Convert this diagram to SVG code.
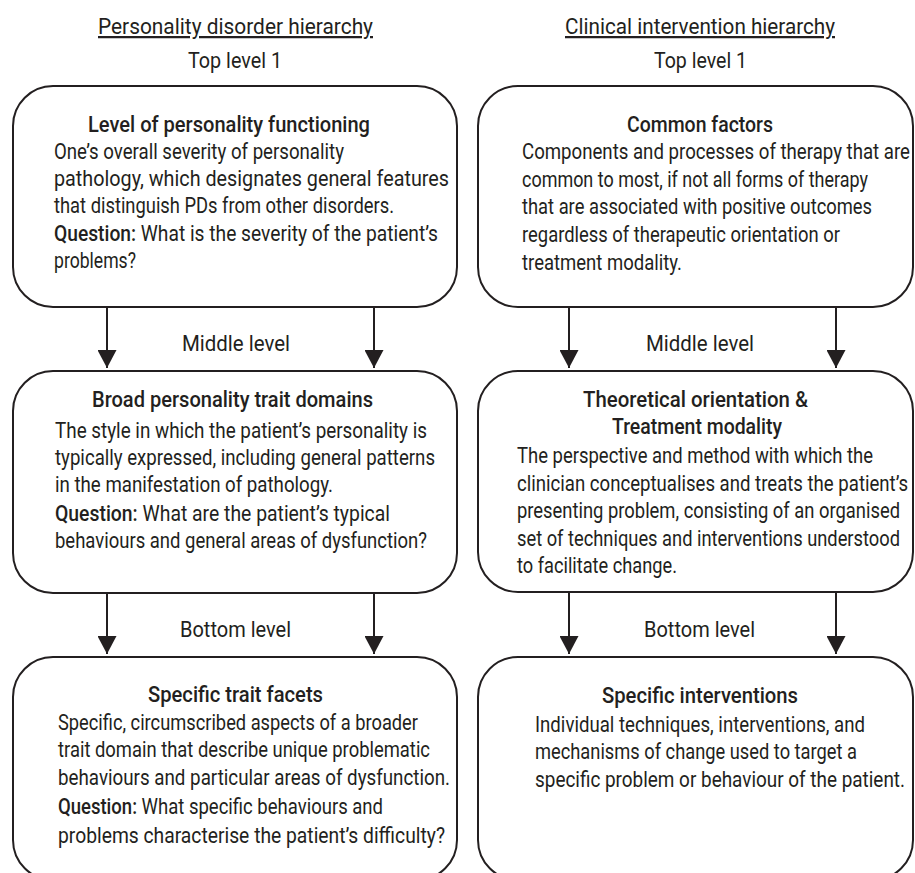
<svg xmlns="http://www.w3.org/2000/svg" width="915" height="873" viewBox="0 0 915 873">
<defs>
<style>
.t{font-family:Roboto,"Liberation Sans",sans-serif;font-size:22.5px;fill:#231f20}
.h{font-weight:500}
.q{font-weight:500}
.u{text-decoration:underline}
.box{fill:#fff;stroke:#231f20;stroke-width:2}
.c{stroke:#231f20;stroke-width:2;fill:none}
</style>
<marker id="ah" viewBox="0 0 18 19" refX="18" refY="9.5" markerWidth="18" markerHeight="19" markerUnits="userSpaceOnUse" orient="auto">
<path d="M0,0 L18,9.5 L0,19 z" fill="#231f20"/>
</marker>
</defs>
<rect width="915" height="873" fill="#fff"/>

<g id="headings">
<text class="t u" x="98" y="34" textLength="275" lengthAdjust="spacingAndGlyphs">Personality disorder hierarchy</text>
<text class="t" x="188" y="68" textLength="94" lengthAdjust="spacingAndGlyphs">Top level 1</text>
<text class="t u" x="565" y="34" textLength="270" lengthAdjust="spacingAndGlyphs">Clinical intervention hierarchy</text>
<text class="t" x="654" y="68" textLength="93" lengthAdjust="spacingAndGlyphs">Top level 1</text>
</g>

<g id="connectors">
<line class="c" x1="107" y1="307" x2="107" y2="368" marker-end="url(#ah)"/>
<line class="c" x1="374" y1="307" x2="374" y2="368" marker-end="url(#ah)"/>
<line class="c" x1="569" y1="307" x2="569" y2="368" marker-end="url(#ah)"/>
<line class="c" x1="836" y1="307" x2="836" y2="368" marker-end="url(#ah)"/>
<line class="c" x1="107" y1="593" x2="107" y2="654" marker-end="url(#ah)"/>
<line class="c" x1="374" y1="593" x2="374" y2="654" marker-end="url(#ah)"/>
<line class="c" x1="569" y1="592" x2="569" y2="654" marker-end="url(#ah)"/>
<line class="c" x1="836" y1="592" x2="836" y2="654" marker-end="url(#ah)"/>
<text class="t" x="182" y="351" textLength="108" lengthAdjust="spacingAndGlyphs">Middle level</text>
<text class="t" x="646" y="351" textLength="108" lengthAdjust="spacingAndGlyphs">Middle level</text>
<text class="t" x="180" y="637" textLength="111" lengthAdjust="spacingAndGlyphs">Bottom level</text>
<text class="t" x="644" y="637" textLength="111" lengthAdjust="spacingAndGlyphs">Bottom level</text>
</g>

<g id="pd-top">
<rect class="box" x="13" y="86" width="444" height="221" rx="40" ry="40"/>
<text class="t h" x="88" y="132" textLength="282" lengthAdjust="spacingAndGlyphs">Level of personality functioning</text>
<text class="t" x="54" y="159" textLength="290" lengthAdjust="spacingAndGlyphs">One’s overall severity of personality</text>
<text class="t" x="54" y="186" textLength="395" lengthAdjust="spacingAndGlyphs">pathology, which designates general features</text>
<text class="t" x="54" y="213" textLength="340" lengthAdjust="spacingAndGlyphs">that distinguish PDs from other disorders.</text>
<text class="t" x="54" y="241" textLength="384" lengthAdjust="spacingAndGlyphs"><tspan class="q">Question:</tspan> What is the severity of the patient’s</text>
<text class="t" x="54" y="268" textLength="82" lengthAdjust="spacingAndGlyphs">problems?</text>
</g>

<g id="ci-top">
<rect class="box" x="478" y="86" width="435" height="221" rx="40" ry="40"/>
<text class="t h" x="627" y="132" textLength="146" lengthAdjust="spacingAndGlyphs">Common factors</text>
<text class="t" x="522" y="159" textLength="388" lengthAdjust="spacingAndGlyphs">Components and processes of therapy that are</text>
<text class="t" x="522" y="187" textLength="346" lengthAdjust="spacingAndGlyphs">common to most, if not all forms of therapy</text>
<text class="t" x="522" y="214" textLength="350" lengthAdjust="spacingAndGlyphs">that are associated with positive outcomes</text>
<text class="t" x="522" y="242" textLength="318" lengthAdjust="spacingAndGlyphs">regardless of therapeutic orientation or</text>
<text class="t" x="522" y="270" textLength="160" lengthAdjust="spacingAndGlyphs">treatment modality.</text>
</g>

<g id="pd-middle">
<rect class="box" x="13" y="371" width="444" height="222" rx="40" ry="40"/>
<text class="t h" x="92" y="407" textLength="281" lengthAdjust="spacingAndGlyphs">Broad personality trait domains</text>
<text class="t" x="55" y="438" textLength="372" lengthAdjust="spacingAndGlyphs">The style in which the patient’s personality is</text>
<text class="t" x="55" y="465" textLength="380" lengthAdjust="spacingAndGlyphs">typically expressed, including general patterns</text>
<text class="t" x="55" y="492" textLength="278" lengthAdjust="spacingAndGlyphs">in the manifestation of pathology.</text>
<text class="t" x="55" y="521" textLength="335" lengthAdjust="spacingAndGlyphs"><tspan class="q">Question:</tspan> What are the patient’s typical</text>
<text class="t" x="55" y="548" textLength="372" lengthAdjust="spacingAndGlyphs">behaviours and general areas of dysfunction?</text>
</g>

<g id="ci-middle">
<rect class="box" x="478" y="371" width="435" height="221" rx="40" ry="40"/>
<text class="t h" x="583" y="407" textLength="225" lengthAdjust="spacingAndGlyphs">Theoretical orientation &amp;</text>
<text class="t h" x="612" y="434" textLength="170" lengthAdjust="spacingAndGlyphs">Treatment modality</text>
<text class="t" x="517" y="463" textLength="356" lengthAdjust="spacingAndGlyphs">The perspective and method with which the</text>
<text class="t" x="517" y="491" textLength="391" lengthAdjust="spacingAndGlyphs">clinician conceptualises and treats the patient’s</text>
<text class="t" x="517" y="518" textLength="383" lengthAdjust="spacingAndGlyphs">presenting problem, consisting of an organised</text>
<text class="t" x="517" y="546" textLength="383" lengthAdjust="spacingAndGlyphs">set of techniques and interventions understood</text>
<text class="t" x="517" y="573" textLength="160" lengthAdjust="spacingAndGlyphs">to facilitate change.</text>
</g>

<g id="pd-bottom">
<rect class="box" x="13" y="657" width="444" height="223" rx="40" ry="40"/>
<text class="t h" x="148" y="702" textLength="175" lengthAdjust="spacingAndGlyphs">Specific trait facets</text>
<text class="t" x="58" y="730" textLength="360" lengthAdjust="spacingAndGlyphs">Specific, circumscribed aspects of a broader</text>
<text class="t" x="58" y="757" textLength="372" lengthAdjust="spacingAndGlyphs">trait domain that describe unique problematic</text>
<text class="t" x="58" y="785" textLength="392" lengthAdjust="spacingAndGlyphs">behaviours and particular areas of dysfunction.</text>
<text class="t" x="58" y="814" textLength="325" lengthAdjust="spacingAndGlyphs"><tspan class="q">Question:</tspan> What specific behaviours and</text>
<text class="t" x="58" y="843" textLength="387" lengthAdjust="spacingAndGlyphs">problems characterise the patient’s difficulty?</text>
</g>

<g id="ci-bottom">
<rect class="box" x="478" y="657" width="435" height="223" rx="40" ry="40"/>
<text class="t h" x="602" y="703" textLength="196" lengthAdjust="spacingAndGlyphs">Specific interventions</text>
<text class="t" x="535" y="732" textLength="330" lengthAdjust="spacingAndGlyphs">Individual techniques, interventions, and</text>
<text class="t" x="535" y="759" textLength="322" lengthAdjust="spacingAndGlyphs">mechanisms of change used to target a</text>
<text class="t" x="535" y="787" textLength="370" lengthAdjust="spacingAndGlyphs">specific problem or behaviour of the patient.</text>
</g>
</svg>
